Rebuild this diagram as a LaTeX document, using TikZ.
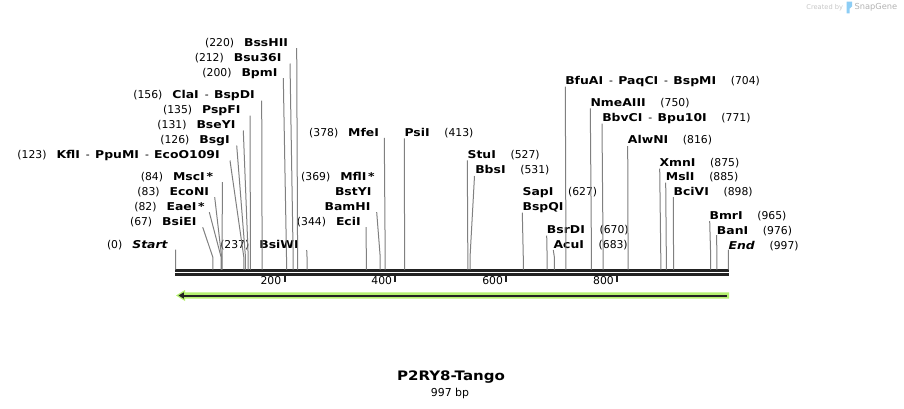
\documentclass[tikz,border=0pt]{standalone}
\usepackage{fontspec}
\setmainfont{DejaVu Sans}[BoldFeatures={FakeStretch=1.15},BoldItalicFeatures={FakeStretch=1.15}]
\usepackage{tikz}
\usetikzlibrary{arrows.meta}
\definecolor{cutgray}{RGB}{128,128,128}
\definecolor{seqdark}{RGB}{34,34,34}
\definecolor{featgreen}{RGB}{180,240,112}
\definecolor{logoblue}{RGB}{140,205,245}
\newcommand{\enz}[1]{\textbf{#1}}
\newcommand{\lgap}{\hspace{7.5pt}} % gap between (position) and enzyme
\newcommand{\rgap}{\hspace{11pt}}
\newcommand{\sepdash}{\hspace{4.5pt}-\hspace{4pt}}
\tikzset{
	lab/.style={inner sep=0pt, font=\fontsize{8.1pt}{9.5pt}\selectfont, text height=6.9pt, text depth=1pt}, % enzyme labels
	labl/.style={lab, anchor=east}, % labels left of their line
	labr/.style={lab, anchor=west}, % labels right of their line
	cut/.style={draw=cutgray, line width=0.75pt}, % line from label down to the cut site
	seqline/.style={draw=seqdark, line width=1.9pt},
	tick/.style={draw=seqdark, line width=1.5pt},
}

\begin{document}
\begin{tikzpicture}[x=0.75pt,y=-0.75pt]
	\useasboundingbox (0,0) rectangle (904,408);
	\coordinate (bar) at (0,269.5);
	% knee of every cut line, just above the sequence
	\foreach \p in {0,67,82,83,84,123,126,131,135,156,200,212,220,237,344,369,378,413,527,531,627,670,683,704,750,771,816,875,885,898,965,976,997}
		\coordinate (k\p) at ({175.6+0.5545*\p},257);

	% sequence and ruler
	\draw[seqline] (175,270.6) -- (729,270.6);
	\draw[seqline] (175,274.6) -- (729,274.6);
	\foreach \t in {200,400,600,800} {
		\draw[tick] ({173.6+0.5545*\t},275.5) -- ++(0,6.5);
		\node[labl] (t\t) at ({170.5+0.5545*\t},280.5) {\t};
	}

	% feature arrow
	\fill[featgreen] (176,295.5) -- (185,290) -- (185,292.4) -- (729,292.4) -- (729,298.6) -- (185,298.6) -- (185,301) -- cycle;
	\draw[seqdark, line width=1.5pt, -{Triangle[length=4pt,width=4.5pt]}] (726.5,295.5) -- (178.5,295.5);

	% left hand labels
	\node[labl] (bsshii) at (288.3,42.7) {(220)\lgap\enz{BssHII}};
	\node[labl] (bsu36i) at (281.7,58) {(212)\lgap\enz{Bsu36I}};
	\node[labl] (bpmi) at (277.7,72.7) {(200)\lgap\enz{BpmI}};
	\node[labl] (clai) at (255,95) {(156)\lgap\enz{ClaI}\sepdash\enz{BspDI}};
	\node[labl] (pspfi) at (240.7,110) {(135)\lgap\enz{PspFI}};
	\node[labl] (bseyi) at (235.7,125) {(131)\lgap\enz{BseYI}};
	\node[labl] (bsgi) at (230,140) {(126)\lgap\enz{BsgI}};
	\node[labl] (kfli) at (220,155) {(123)\lgap\enz{KflI}\sepdash\enz{PpuMI}\sepdash\enz{EcoO109I}};
	\node[labl] (msci) at (213.3,176.7) {(84)\lgap\enz{MscI\,*}};
	\node[labl] (econi) at (209.3,191.7) {(83)\lgap\enz{EcoNI}};
	\node[labl] (eaei) at (205,206.7) {(82)\lgap\enz{EaeI\,*}};
	\node[labl] (bsiei) at (196.7,221.7) {(67)\lgap\enz{BsiEI}};
	\node[labl] (start) at (168.3,245) {(0)\lgap\textbf{\textit{Start}}};
	\node[labl] (bsiwi) at (299,245) {(237)\lgap\enz{BsiWI}};
	\node[labl] (ecii) at (361,221.7) {(344)\lgap\enz{EciI}};
	\node[labl] (bamhi) at (370.7,206.7) {\enz{BamHI}};
	\node[labl] (bstyi) at (371.7,191.3) {\enz{BstYI}};
	\node[labl] (mfli) at (375,176.7) {(369)\lgap\enz{MflI\,*}};
	\node[labl] (mfei) at (379.3,132.3) {(378)\lgap\enz{MfeI}};

	\draw[cut] (bsshii.east) ++(8.4,5.5) -- (k220) -- (k220 |- bar);
	\draw[cut] (bsu36i.east) ++(8.3,5.5) -- (k212) -- (k212 |- bar);
	\draw[cut] (bpmi.east) ++(5.6,5.5) -- (k200) -- (k200 |- bar);
	\draw[cut] (clai.east) ++(6.7,5.5) -- (k156) -- (k156 |- bar);
	\draw[cut] (pspfi.east) ++(9.3,5.5) -- (k135) -- (k135 |- bar);
	\draw[cut] (bseyi.east) ++(7.6,5.5) -- (k131) -- (k131 |- bar);
	\draw[cut] (bsgi.east) ++(6.7,5.5) -- (k126) -- (k126 |- bar);
	\draw[cut] (kfli.east) ++(10,5.5) -- (k123) -- (k123 |- bar);
	\draw[cut] (msci.east) ++(9,5.5) -- (k84) -- (k84 |- bar);
	\draw[cut] (econi.east) ++(5.4,5.5) -- (k83) -- (k83 |- bar);
	\draw[cut] (eaei.east) ++(4.3,5.5) -- (k82) -- (k82 |- bar);
	\draw[cut] (bsiei.east) ++(6,5.5) -- (k67) -- (k67 |- bar);
	\draw[cut] (start.east) ++(7.3,4.5) -- (k0) -- (k0 |- bar);
	\draw[cut] (bsiwi.east) ++(7.7,5) -- (k237) -- (k237 |- bar);
	\draw[cut] (ecii.east) ++(5,5.5) -- (k344) -- (k344 |- bar);
	\draw[cut] (bamhi.east) ++(6,5.5) -- (k369) -- (k369 |- bar);
	\draw[cut] (mfei.east) ++(5,5.5) -- (k378) -- (k378 |- bar);

	% right hand labels
	\node[labr] (psii) at (404.3,132.3) {\enz{PsiI}\rgap(413)};
	\node[labr] (stui) at (467.3,154.3) {\enz{StuI}\rgap(527)};
	\node[labr] (bbsi) at (475,170) {\enz{BbsI}\rgap(531)};
	\node[labr] (sapi) at (522.3,191.5) {\enz{SapI}\rgap(627)};
	\node[labr] (bspqi) at (522.3,206.7) {\enz{BspQI}};
	\node[labr] (bsrdi) at (546.7,229.5) {\enz{BsrDI}\rgap(670)};
	\node[labr] (acui) at (553.3,245) {\enz{AcuI}\rgap(683)};
	\node[labr] (bfuai) at (565,80.7) {\enz{BfuAI}\sepdash\enz{PaqCI}\sepdash\enz{BspMI}\rgap(704)};
	\node[labr] (nmeaiii) at (590.3,102.3) {\enz{NmeAIII}\rgap(750)};
	\node[labr] (bbvci) at (602,117.7) {\enz{BbvCI}\sepdash\enz{Bpu10I}\rgap(771)};
	\node[labr] (alwni) at (627.7,140) {\enz{AlwNI}\rgap(816)};
	\node[labr] (xmni) at (659.3,162.5) {\enz{XmnI}\rgap(875)};
	\node[labr] (msli) at (665.7,176.7) {\enz{MslI}\rgap(885)};
	\node[labr] (bcivi) at (673.3,191.7) {\enz{BciVI}\rgap(898)};
	\node[labr] (bmri) at (709.3,215.7) {\enz{BmrI}\rgap(965)};
	\node[labr] (bani) at (716.7,230.7) {\enz{BanI}\rgap(976)};
	\node[labr] (end) at (728.3,245.7) {\textbf{\textit{End}}\rgap(997)};

	\draw[cut] (psii.west) ++(0,6) -- (k413) -- (k413 |- bar);
	\draw[cut] (stui.west) ++(0,6) -- (k527) -- (k527 |- bar);
	\draw[cut] (bbsi.west) ++(-0.5,6) -- (k531) -- (k531 |- bar);
	\draw[cut] (bspqi.west) ++(0,6) -- (k627) -- (k627 |- bar);
	\draw[cut] (bsrdi.west) ++(0,6) -- (k670) -- (k670 |- bar);
	\draw[cut] (acui.west) ++(0,5) -- (k683) -- (k683 |- bar);
	\draw[cut] (bfuai.west) ++(0.3,6) -- (k704) -- (k704 |- bar);
	\draw[cut] (nmeaiii.west) ++(0,6) -- (k750) -- (k750 |- bar);
	\draw[cut] (bbvci.west) ++(0,6) -- (k771) -- (k771 |- bar);
	\draw[cut] (alwni.west) ++(0,6) -- (k816) -- (k816 |- bar);
	\draw[cut] (xmni.west) ++(0.4,6) -- (k875) -- (k875 |- bar);
	\draw[cut] (msli.west) ++(0,6) -- (k885) -- (k885 |- bar);
	\draw[cut] (bcivi.west) ++(0,5.5) -- (k898) -- (k898 |- bar);
	\draw[cut] (bmri.west) ++(0.4,5.5) -- (k965) -- (k965 |- bar);
	\draw[cut] (bani.west) ++(0,4.5) -- (k976) -- (k976 |- bar);
	\draw[cut] (end.west) ++(0,4) -- (k997) -- (k997 |- bar);

	% title
	\node[inner sep=0pt, font=\fontsize{9.8pt}{11pt}\selectfont\bfseries] (title) at (451,377.3) {P2RY8-Tango};
	\node[inner sep=0pt, font=\fontsize{8.2pt}{10pt}\selectfont] (len) at (450,393) {997 bp};

	% watermark
	\node[inner sep=0pt, anchor=east, text=gray!45, font=\fontsize{5pt}{6pt}\selectfont] (madeby) at (843.3,7.3) {Created by};
	\fill[logoblue] (846.5,1.7) -- (852,1.7) -- (852,6.5) -- (849.6,8.6) -- (849.6,13.3) -- (846.5,13.3) -- cycle;
	\node[inner sep=0pt, anchor=west, text=gray!60, font=\fontsize{6.2pt}{7pt}\selectfont] (snapgene) at (854.3,7.3) {SnapGene};
\end{tikzpicture}
\end{document}
